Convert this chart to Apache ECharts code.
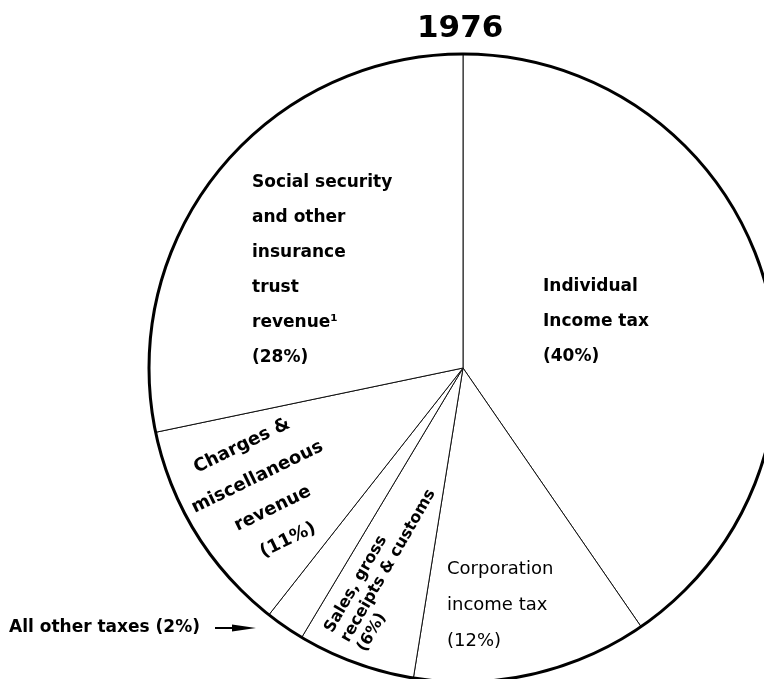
<!DOCTYPE html>
<html>
<head>
<meta charset="utf-8">
<script src="https://cdn.jsdelivr.net/npm/echarts@6/dist/echarts.min.js"></script>
<style>
  html, body { margin: 0; padding: 0; background: #fff; }
  #chart { width: 764px; height: 679px; }
</style>
</head>
<body>
<div id="chart"></div>
<script>
// revenue shares, clockwise from the top
var sliceNames = [
  "Individual income tax",
  "Corporation income tax",
  "Sales, gross receipts & customs",
  "All other taxes",
  "Charges & miscellaneous revenue",
  "Social security and other insurance trust revenue"
];
var sliceValues = [40, 12, 6, 2, 11, 28];
var labelLines = [
  ["Individual", "Income tax"],
  ["Corporation", "income tax"],
  ["Sales, gross", "receipts & customs"],
  ["All other taxes"],
  ["Charges &", "miscellaneous", "revenue"],
  ["Social security", "and other", "insurance", "trust", "revenue\u00b9"]
];
var titleText = "1976";

// where each label sits (hand placed like the original drawing)
var labelSpots = [
  { x: 543, y: 322, align: "left" },
  { x: 447, y: 605, align: "left" },
  { x: 345, y: 641, align: "left", rotate: 60 },
  { x: 9, y: 628, align: "left" },
  { x: 265, y: 493, align: "center", rotate: 26 },
  { x: 252, y: 270, align: "left" }
];
var labelLooks = [
  { fontSize: 17, fontWeight: "bold", lineHeight: 35 },
  { fontSize: 18, fontWeight: "normal", lineHeight: 36 },
  { fontSize: 16, fontWeight: "bold", lineHeight: 19 },
  { fontSize: 17, fontWeight: "bold", lineHeight: 20 },
  { fontSize: 18, fontWeight: "bold", lineHeight: 35 },
  { fontSize: 17, fontWeight: "bold", lineHeight: 35 }
];

function labelFor(i) {
  var pct = "(" + sliceValues[i] + "%)";
  if (labelLines[i].length === 1) return labelLines[i][0] + " " + pct;
  return labelLines[i].concat([pct]).join("\n");
}

var pieData = sliceNames.map(function (n, i) {
  return {
    name: n,
    value: sliceValues[i],
    label: Object.assign({}, labelLooks[i])
  };
});

var chart = echarts.init(document.getElementById("chart"));
chart.setOption({
  backgroundColor: "#fff",
  animation: false,
  title: {
    text: titleText,
    left: 417,
    top: 13,
    padding: 0,
    textStyle: { fontFamily: "DejaVu Sans", fontSize: 31, fontWeight: "bold", color: "#000" }
  },
  series: [
    {
      type: "pie",
      center: [463, 368],
      radius: 314,
      startAngle: 90,
      clockwise: true,
      silent: true,
      avoidLabelOverlap: false,
      emphasis: { disabled: true },
      itemStyle: { color: "#fff", borderColor: "#111", borderWidth: 1 },
      label: {
        show: true,
        position: "inside",
        color: "#000",
        fontFamily: "DejaVu Sans",
        formatter: function (p) { return labelFor(p.dataIndex); }
      },
      labelLine: { show: false },
      labelLayout: function (p) {
        var s = labelSpots[p.dataIndex];
        return {
          x: s.x,
          y: s.y,
          align: s.align,
          verticalAlign: "middle",
          rotate: s.rotate || 0
        };
      },
      data: pieData
    },
    {
      // heavy outer rim
      type: "pie",
      center: [463, 368],
      radius: 314,
      silent: true,
      emphasis: { disabled: true },
      label: { show: false },
      labelLine: { show: false },
      itemStyle: { color: "rgba(0,0,0,0)", borderColor: "#000", borderWidth: 3 },
      data: [{ value: 1, name: "rim" }]
    }
  ],
  graphic: [
    {
      type: "line",
      shape: { x1: 215, y1: 628, x2: 236, y2: 628 },
      style: { stroke: "#000", lineWidth: 2 }
    },
    {
      type: "polygon",
      shape: { points: [[232, 624.5], [256, 628], [232, 631.5]] },
      style: { fill: "#000" }
    }
  ]
});
</script>
</body>
</html>
